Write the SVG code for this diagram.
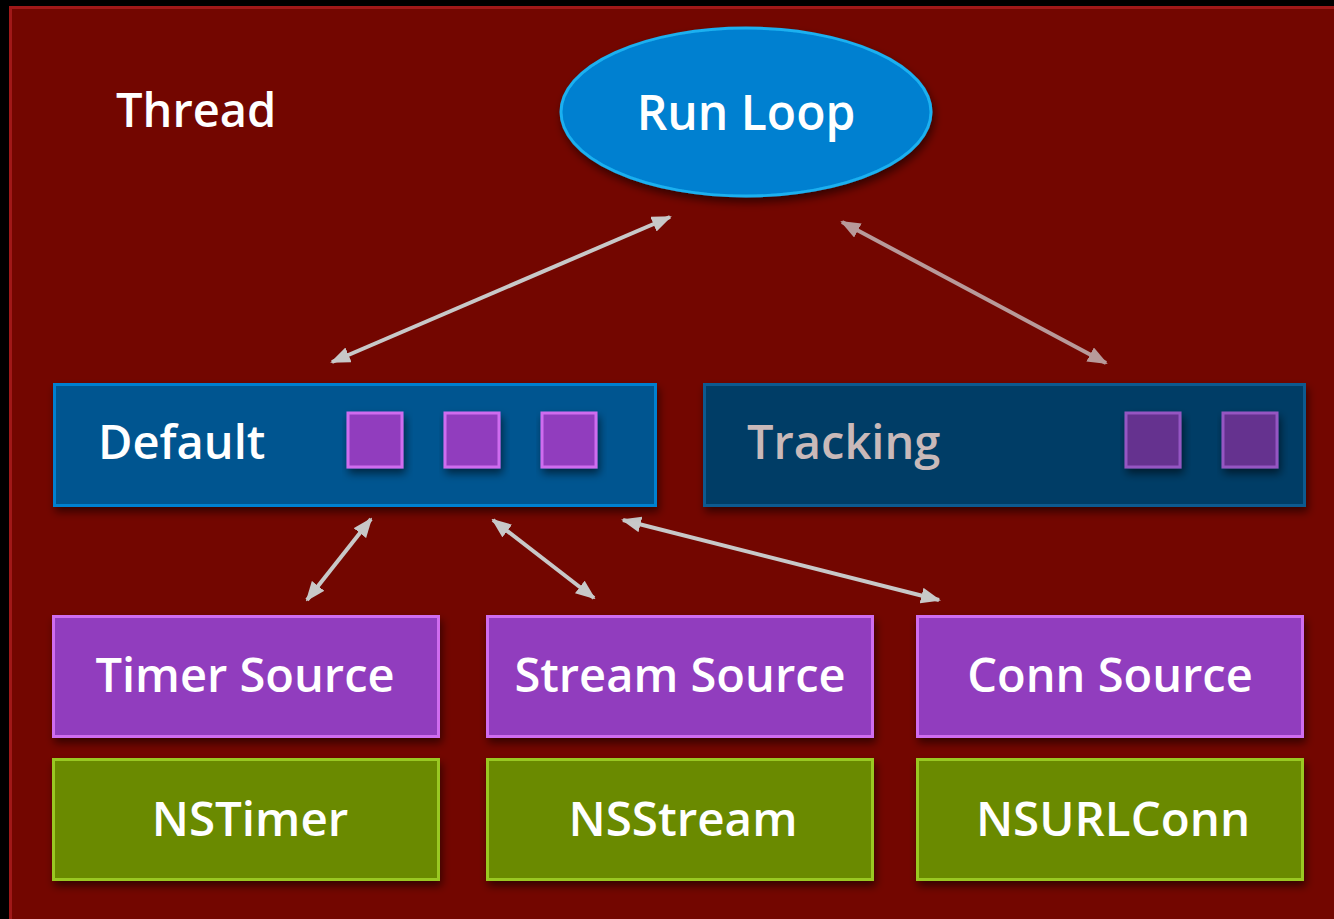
<svg xmlns="http://www.w3.org/2000/svg" width="1334" height="919" viewBox="0 0 1334 919">
<defs>
<style>
.t{font-family:"Open Sans","Liberation Sans",sans-serif;fill:#ffffff;font-size:47px;font-weight:600}
.src{fill:#913dbe;stroke:#cf6cef;stroke-width:3}
.ns{fill:#6b8a05;stroke:#99c824;stroke-width:3}
.sq{fill:#913dbe;stroke:#cf6cef;stroke-width:3}
.sq2{fill:#65308f;stroke:#9556c2;stroke-width:3}
.c{stroke:#c8c8c8;stroke-width:4;fill:none}
</style>
<filter id="sh" x="-10%" y="-20%" width="130%" height="150%">
<feDropShadow dx="2" dy="5" stdDeviation="4" flood-color="#000" flood-opacity="0.55"/>
</filter>
<marker id="ah" viewBox="0 0 20 16" refX="18" refY="8" markerWidth="20" markerHeight="16" markerUnits="userSpaceOnUse" orient="auto-start-reverse">
<path d="M0,0 L20,8 L0,16 Z" fill="#c8c8c8"/>
</marker>
<marker id="ah2" viewBox="0 0 20 16" refX="18" refY="8" markerWidth="20" markerHeight="16" markerUnits="userSpaceOnUse" orient="auto-start-reverse">
<path d="M0,0 L20,8 L0,16 Z" fill="#b89a9a"/>
</marker>
</defs>
<rect x="0" y="0" width="1334" height="919" fill="#000"/>
<rect x="10.5" y="7.5" width="1330" height="920" fill="#730600" stroke="#a01818" stroke-width="3"/>
<text class="t" x="116" y="127">Thread</text>

<g id="connectors">
<line class="c" x1="332" y1="362" x2="670" y2="217" marker-start="url(#ah)" marker-end="url(#ah)"/>
<line class="c" x1="842" y1="222" x2="1106" y2="363" style="stroke:#b89a9a" marker-start="url(#ah2)" marker-end="url(#ah2)"/>
<line class="c" x1="307" y1="600" x2="371" y2="519" marker-start="url(#ah)" marker-end="url(#ah)"/>
<line class="c" x1="493" y1="520" x2="594" y2="598" marker-start="url(#ah)" marker-end="url(#ah)"/>
<line class="c" x1="623" y1="520" x2="939" y2="600" marker-start="url(#ah)" marker-end="url(#ah)"/>
</g>

<g id="runloop">
<ellipse cx="746" cy="112" rx="185" ry="84" fill="#0080d0" stroke="#1ab0f0" stroke-width="3" filter="url(#sh)"/>
<text class="t" x="746" y="130" text-anchor="middle" style="font-size:48px">Run Loop</text>
</g>

<g id="default">
<rect x="54.5" y="384.5" width="601" height="121" fill="#005590" stroke="#0080d0" stroke-width="3" filter="url(#sh)"/>
<text class="t" x="98" y="459">Default</text>
<rect class="sq" x="348" y="413" width="54" height="54" filter="url(#sh)"/>
<rect class="sq" x="445" y="413" width="54" height="54" filter="url(#sh)"/>
<rect class="sq" x="542" y="413" width="54" height="54" filter="url(#sh)"/>
</g>

<g id="tracking">
<rect x="704.5" y="384.5" width="600" height="121" fill="#033e66" stroke="#0a5a90" stroke-width="3" filter="url(#sh)"/>
<text class="t" x="747" y="459" style="fill:#c9b9b9">Tracking</text>
<rect class="sq2" x="1126" y="413" width="54" height="54" filter="url(#sh)"/>
<rect class="sq2" x="1223" y="413" width="54" height="54" filter="url(#sh)"/>
</g>

<g id="timer-source">
<rect class="src" x="53.5" y="616.5" width="385" height="120" filter="url(#sh)"/>
<text class="t" x="245" y="692" text-anchor="middle">Timer Source</text>
</g>
<g id="stream-source">
<rect class="src" x="487.5" y="616.5" width="385" height="120" filter="url(#sh)"/>
<text class="t" x="680" y="692" text-anchor="middle">Stream Source</text>
</g>
<g id="conn-source">
<rect class="src" x="917.5" y="616.5" width="385" height="120" filter="url(#sh)"/>
<text class="t" x="1110" y="692" text-anchor="middle">Conn Source</text>
</g>
<g id="nstimer">
<rect class="ns" x="53.5" y="759.5" width="385" height="120" filter="url(#sh)"/>
<text class="t" x="250" y="836" text-anchor="middle" style="font-size:47.5px">NSTimer</text>
</g>
<g id="nsstream">
<rect class="ns" x="487.5" y="759.5" width="385" height="120" filter="url(#sh)"/>
<text class="t" x="683" y="836" text-anchor="middle" style="font-size:47.5px">NSStream</text>
</g>
<g id="nsurlconn">
<rect class="ns" x="917.5" y="759.5" width="385" height="120" filter="url(#sh)"/>
<text class="t" x="1113" y="836" text-anchor="middle" style="font-size:47.5px">NSURLConn</text>
</g>
</svg>
